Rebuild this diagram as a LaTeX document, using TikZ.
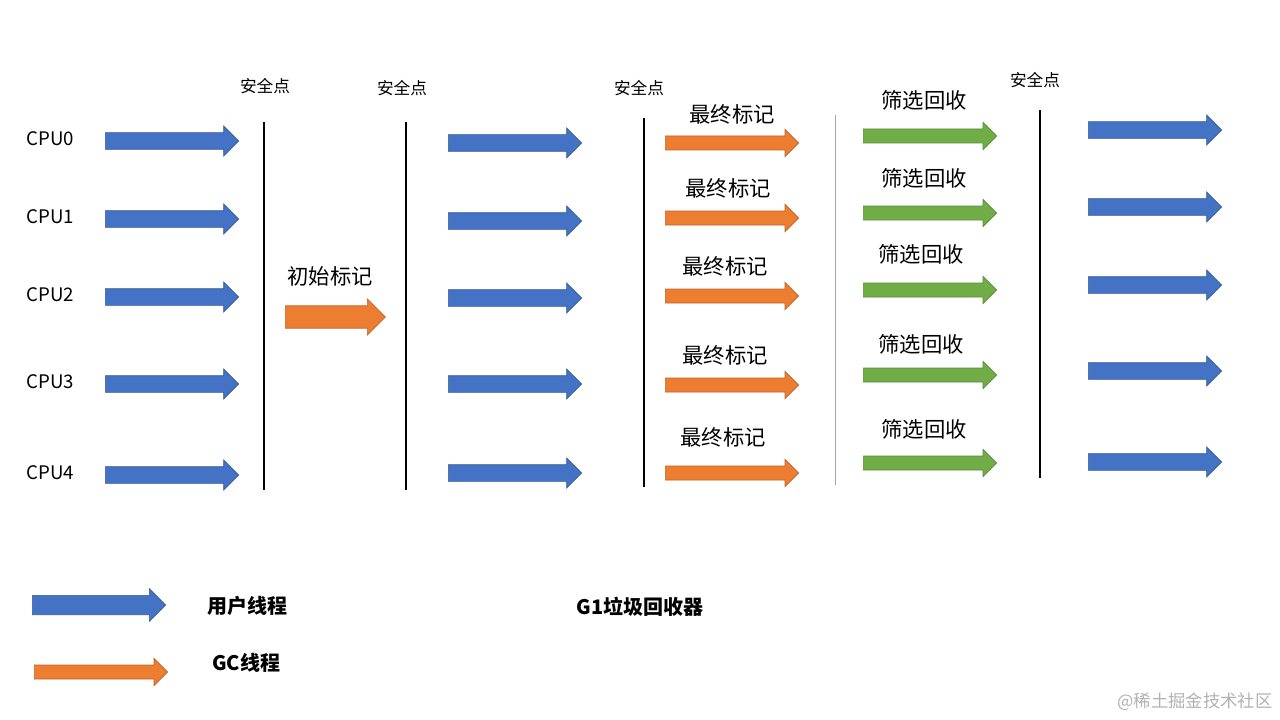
\documentclass[tikz,border=0pt]{standalone}
\usepackage{fontspec}
\setmainfont{Noto Sans CJK SC}
\usetikzlibrary{shapes.arrows}
\definecolor{ublue}{HTML}{4472C4}
\definecolor{gcor}{HTML}{ED7D31}
\definecolor{fgreen}{HTML}{70AD47}
\begin{document}
\begin{tikzpicture}[x=0.75pt,y=-0.75pt,
 arr/.style={single arrow,anchor=west,minimum height=100pt,inner sep=0pt,minimum width=22pt,single arrow head extend=5pt,single arrow head indent=0pt,text width=0pt,text height=12pt,draw=#1!80!black,fill=#1,line width=0.5pt},
 arrs/.style={arr=#1,text height=10pt,minimum width=19.5pt},
 bar/.style={line width=2.2pt},
 sp/.style={font=\fontsize{12.5}{14}\selectfont},
 lab/.style={font=\fontsize{16}{18}\selectfont},
 cpu/.style={font=\fontsize{14}{16}\selectfont,anchor=west},
 leg/.style={font=\bfseries\fontsize{15}{18}\selectfont}]
\useasboundingbox (0,0) rectangle (1280,720);
\fill[white] (0,0) rectangle (1280,720);
% CPU labels
\foreach \n/\y in {0/141,1/219,2/297,3/384,4/475}{
 \node[cpu] (cpu\n) at (22,\y-2) {CPU\n};
 \node[arr=ublue] (a\n) at (105,\y) {};}
\foreach \n/\y in {0/143,1/221,2/298,3/384,4/473}{
 \node[arr=ublue] (b\n) at (448,\y) {};}
\foreach \n/\y in {0/143,1/218,2/296,3/385,4/473}{
 \node[arrs=gcor] (c\n) at (665,\y) {};}
\foreach \n/\y in {0/136,1/213,2/290,3/375,4/463}{
 \node[arrs=fgreen] (d\n) at (863,\y) {};}
\foreach \n/\y in {0/130,1/207,2/285,3/371,4/462}{
 \node[arr=ublue] (e\n) at (1088,\y) {};}
\node[arr=gcor,minimum height=75pt,text height=16pt,minimum width=27pt] (init) at (285,317) {};
\node[lab] (initl) at (330,276) {初始标记};
\foreach \n/\x/\y in {0/732/114,1/728/188,2/725/266,3/725/355,4/723/437}{
 \node[lab] (cl\n) at (\x,\y) {最终标记};}
\foreach \n/\x/\y in {0/924/100,1/924/178,2/921/254,3/921/344,4/924/429}{
 \node[lab] (dl\n) at (\x,\y) {筛选回收};}
% bars
\coordinate (v1t) at (264,122); \coordinate (v1b) at (264,490);
\coordinate (v2t) at (406,122); \coordinate (v2b) at (406,490);
\coordinate (v3t) at (644,118); \coordinate (v3b) at (644,487);
\coordinate (v4t) at (835,115); \coordinate (v4b) at (835,485);
\coordinate (v5t) at (1040,110); \coordinate (v5b) at (1040,478);
\draw[bar] (v1t) -- (v1b);
\draw[bar] (v2t) -- (v2b);
\draw[bar] (v3t) -- (v3b);
\draw[gray!70,line width=0.6pt] (v4t) -- (v4b);
\draw[bar] (v5t) -- (v5b);
\node[sp] (s1) at (265,86) {安全点};
\node[sp] (s2) at (402,88) {安全点};
\node[sp] (s3) at (639,88) {安全点};
\node[sp] (s4) at (1035,80) {安全点};
% legend
\node[arr=ublue,minimum height=100pt,text height=14pt,minimum width=24pt] (lg1) at (32,605) {};
\node[arrs=gcor] (lg2) at (34,672) {};
\node[leg] (lt1) at (247,606) {用户线程};
\node[leg] (lt2) at (246,663) {GC线程};
\node[leg] (lt3) at (640,607) {G1垃圾回收器};
\node[text=gray!60,font=\fontsize{13}{15}\selectfont] (wm) at (1195,702) {@稀土掘金技术社区};
\end{tikzpicture}
\end{document}
